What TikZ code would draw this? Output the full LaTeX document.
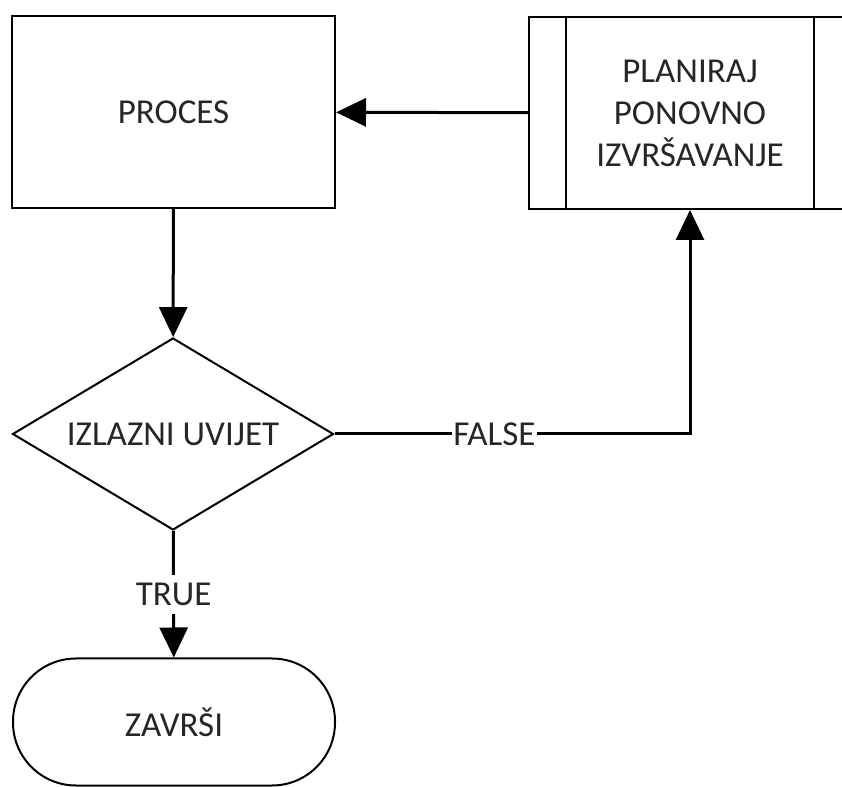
\documentclass[tikz,border=0pt]{standalone}
\usepackage{fontspec}
\setmainfont{Carlito}
\usetikzlibrary{shapes.geometric,arrows.meta}

\begin{document}
\begin{tikzpicture}[x=1pt, y=1pt,
            every node/.style={font=\fontsize{35}{42}\selectfont, text=black!85},
            box/.style={rectangle, draw, line width=2pt, minimum width=323pt, minimum height=192pt, text centered},
            subproc/.style={rectangle, draw, line width=2pt, minimum width=322pt, minimum height=192pt, align=center},
            decision/.style={diamond, draw, line width=2pt, minimum width=321pt, minimum height=192pt, aspect=1.67, inner sep=0pt},
            terminal/.style={rectangle, draw, line width=2pt, rounded corners=63pt, minimum width=322pt, minimum height=127pt},
            arrow/.style={-{Triangle[width=28pt,length=30pt]}, line width=3pt},
            flowlabel/.style={fill=white, inner sep=1pt}
            ]
            \useasboundingbox (0,0) rectangle (842,786);
            
            % Steps
            \node[box] (proces) at (173.5,674) {PROCES};
            \node[subproc] (planiraj) at (690,673) {PLANIRAJ\\PONOVNO\\IZVRŠAVANJE};
            \node[decision] (uvjet) at (173,352) {IZLAZNI UVIJET};
            \node[terminal] (kraj) at (174,64) {ZAVRŠI};
            
            % Side bars of the subprocess
            \draw[line width=2pt] ([xshift=38pt]planiraj.north west) -- ([xshift=38pt]planiraj.south west);
            \draw[line width=2pt] ([xshift=-38pt]planiraj.north east) -- ([xshift=-38pt]planiraj.south east);
            
            % Arrows
            \draw[arrow] (proces) -- (uvjet);
            \draw[arrow] (uvjet) -- node[flowlabel, inner sep=8pt] {TRUE} (kraj);
            \draw[arrow] (uvjet.east) -- node[flowlabel, pos=0.45] {FALSE} (uvjet.east -| planiraj.south) -- (planiraj.south);
            \draw[arrow] (planiraj) -- (proces);
            
        \end{tikzpicture}
\end{document}
